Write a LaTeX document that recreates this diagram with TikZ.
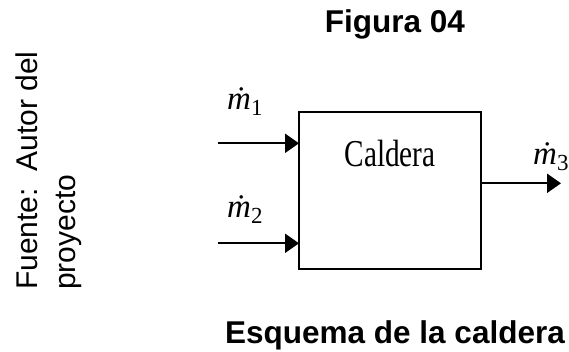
\documentclass[tikz,border=0pt]{standalone}
\usepackage{fontspec}
\setmainfont{Liberation Serif}
\newfontfamily\arialf{Liberation Sans}
\usetikzlibrary{arrows.meta}
\newcommand{\mdotlbl}[1]{{\fontsize{33}{33}\selectfont\itshape\.m}\raisebox{-6pt}{\fontsize{23}{23}\selectfont #1}}
\begin{document}
\begin{tikzpicture}[x=1pt,y=1pt,
  lbl/.style={inner sep=0pt,anchor=base west},
  flow/.style={line width=2.3pt,-{Triangle[length=14pt,width=19pt]}},
  capt/.style={inner sep=0pt,anchor=base,font=\arialf\bfseries\fontsize{31.5}{31.5}\selectfont},
  src/.style={inner sep=0pt,anchor=base west,rotate=90,font=\arialf\fontsize{30}{30}\selectfont}]
\useasboundingbox (0,0) rectangle (569,351);
\fill[white] (0,0) rectangle (569,351);
\node[draw,line width=2.8pt,minimum width=182pt,minimum height=157pt,inner sep=0pt,outer sep=0pt] (box) at (390,160.5) {};
\node[inner sep=0pt,anchor=base] (cald) at (390,184.3) {\scalebox{0.77}[1]{\fontsize{38}{38}\selectfont Caldera}};
\coordinate (in1) at (218,207.7);
\coordinate (in2) at (218,107.7);
\coordinate (out) at (561,167.7);
\draw[flow] (in1) -- (in1 -| box.west);
\draw[flow] (in2) -- (in2 -| box.west);
\draw[flow] (out -| box.east) -- (out);
\node[lbl] (m1) at (227,241) {\mdotlbl{1}};
\node[lbl] (m2) at (227,134) {\mdotlbl{2}};
\node[lbl] (m3) at (533,186) {\mdotlbl{3}};
\node[capt] (fig) at (395,318) {Figura 04};
\node[capt] (esq) at (395,8) {Esquema de la caldera};
\node[src] (f1) at (37,61) {Fuente:\ \ Autor del};
\node[src] (f2) at (75,61) {proyecto};
\end{tikzpicture}
\end{document}
